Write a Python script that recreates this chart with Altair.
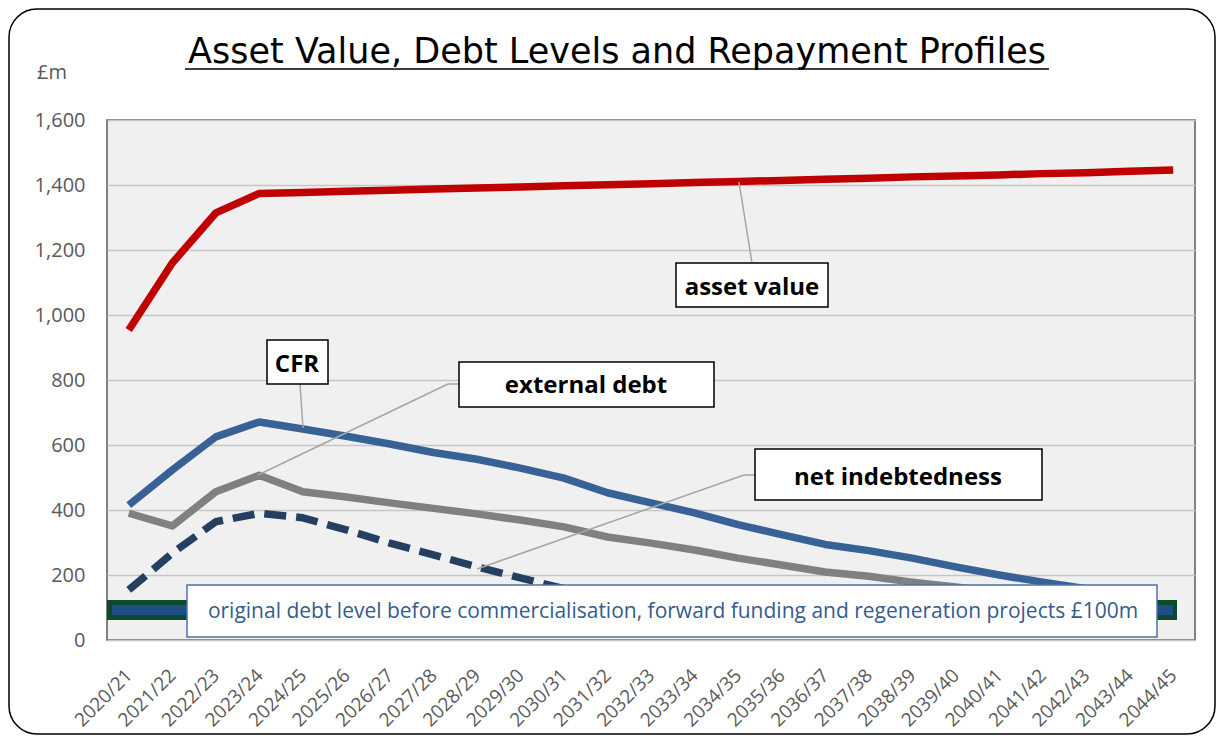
import altair as alt
import pandas as pd

years = ["2020/21", "2021/22", "2022/23", "2023/24", "2024/25", "2025/26", "2026/27",
         "2027/28", "2028/29", "2029/30", "2030/31", "2031/32", "2032/33", "2033/34",
         "2034/35", "2035/36", "2036/37", "2037/38", "2038/39", "2039/40", "2040/41",
         "2041/42", "2042/43", "2043/44", "2044/45"]
asset_value = [954, 1160, 1314, 1374, 1377, 1381, 1384, 1388, 1391, 1394, 1398, 1401, 1404,
               1408, 1411, 1414, 1418, 1421, 1425, 1428, 1431, 1435, 1438, 1442, 1446]
cfr = [415, 523, 625, 671, 649, 627, 603, 577, 556, 529, 498, 453, 422, 391, 355, 324, 294,
       275, 252, 225, 200, 178, 158, 128, 98]
external_debt = [390, 351, 456, 507, 456, 440, 422, 405, 388, 369, 348, 317, 298, 277, 252,
                 231, 209, 196, 178, 163, 148, 134, 120, 106, 94]
net_indebtedness = [154, 267, 364, 390, 376, 339, 298, 262, 225, 191, 158, 140, 128, 118, 110,
                    104, 100, 97, 95, 94, 93, 93, 92, 92, 92]
original_debt_level = 92
y_ticks = [0, 200, 400, 600, 800, 1000, 1200, 1400, 1600]

df = pd.DataFrame({"year": years, "asset": asset_value, "cfr": cfr,
                   "ext": external_debt, "net": net_indebtedness})
one = pd.DataFrame({"k": [0]})

LABEL_FONT = "Open Sans"
GRAY_TXT = "#595959"

x_enc = alt.X("year:N", sort=years, title=None,
              scale=alt.Scale(type="point", padding=0.5),
              axis=alt.Axis(labelAngle=-45, labelAlign="right", labelBaseline="middle",
                            labelPadding=32, ticks=False, domain=False, grid=False,
                            labelFontSize=19, labelColor=GRAY_TXT, labelFont=LABEL_FONT))
y_scale = alt.Scale(domain=[0, 1600], nice=False)
y_axis = alt.Axis(values=y_ticks, format=",.0f", ticks=False, domain=False, grid=True,
                  gridColor="#C6C6C6", gridWidth=1.5, labelFontSize=20,
                  labelColor=GRAY_TXT, labelFont=LABEL_FONT, labelPadding=22)


def series(field, color, dash=None, width=7.5):
    kw = dict(color=color, strokeWidth=width, strokeCap="butt", strokeJoin="round")
    if dash:
        kw["strokeDash"] = dash
    return alt.Chart(df).mark_line(**kw).encode(
        x=x_enc, y=alt.Y(f"{field}:Q", title=None, scale=y_scale, axis=y_axis))


def rule(x1, y1, x2, y2, color="#A6A6A6", width=1.5):
    return alt.Chart(one).mark_rule(color=color, strokeWidth=width, strokeCap="butt").encode(
        x=alt.value(x1), y=alt.value(y1), x2=alt.value(x2), y2=alt.value(y2))


def box(x1, y1, x2, y2, stroke="black", width=1.5):
    return alt.Chart(one).mark_rect(fill="white", stroke=stroke, strokeWidth=width).encode(
        x=alt.value(x1), y=alt.value(y1), x2=alt.value(x2), y2=alt.value(y2))


def label(text, x, y, size=24, weight="bold", color="black", font=LABEL_FONT, align="center"):
    return alt.Chart(one).mark_text(fontSize=size, fontWeight=weight, color=color, font=font,
                                    align=align, baseline="alphabetic").encode(
        x=alt.value(x), y=alt.value(y), text=alt.value(text))


green_outer = alt.Chart(one).mark_rule(color="#0B4A2A", strokeWidth=20, strokeCap="butt").encode(
    x=alt.value(0), x2=alt.value(1070),
    y=alt.Y(datum=original_debt_level, type="quantitative", scale=y_scale, axis=y_axis, title=None))
green_inner = alt.Chart(one).mark_rule(color="#1F4E89", strokeWidth=10, strokeCap="butt").encode(
    x=alt.value(5), x2=alt.value(1066),
    y=alt.Y(datum=original_debt_level, type="quantitative", scale=y_scale, axis=y_axis, title=None))

outer_border = alt.Chart(one).mark_rect(fill="white", fillOpacity=0, stroke="black",
                                        strokeWidth=1.5, cornerRadius=28).encode(
    x=alt.value(-98), y=alt.value(-111), x2=alt.value(1108), y2=alt.value(614))

layers = [
    series("asset", "#C00000"),
    series("cfr", "#386296"),
    series("ext", "#808080"),
    series("net", "#243F60", dash=[22, 10]),
    green_outer, green_inner,
    box(80, 465, 1050, 517, stroke="#4F72A8"),
    label("original debt level before commercialisation, forward funding and regeneration projects  £100m",
          566, 498, size=21, weight="normal", color="#355C8C"),
    # asset value callout
    rule(645, 143, 632, 62),
    box(569, 143, 721, 187),
    label("asset value", 645, 175),
    # CFR callout
    rule(193, 264, 196, 308),
    box(160, 220, 221, 264),
    label("CFR", 190, 252),
    # external debt callout
    rule(352, 264, 341, 264), rule(341, 264, 151, 355),
    box(352, 242, 607, 287),
    label("external debt", 479, 273),
    # net indebtedness callout
    rule(648, 355, 637, 355), rule(637, 355, 370, 449),
    box(648, 329, 935, 380),
    label("net indebtedness", 791, 365),
    # title and unit
    label("Asset Value, Debt Levels and Repayment Profiles", 510, -57, size=35,
          weight="normal", font="DejaVu Sans"),
    rule(78, -51, 942, -51, color="black", width=1.5),
    label("£m", -70, -41, size=20, weight="normal", color=GRAY_TXT, align="left"),
    outer_border,
]

chart = alt.layer(*layers).properties(
    width=1088, height=520,
    autosize=alt.AutoSizeParams(type="none"),
    padding={"left": 99, "top": 112, "right": 21, "bottom": 95},
    background="white",
).configure_view(stroke="#595959", strokeWidth=1.5, fill="#F0F0F0")

chart.save("out.html", embed_options={"renderer": "svg", "actions": False})
